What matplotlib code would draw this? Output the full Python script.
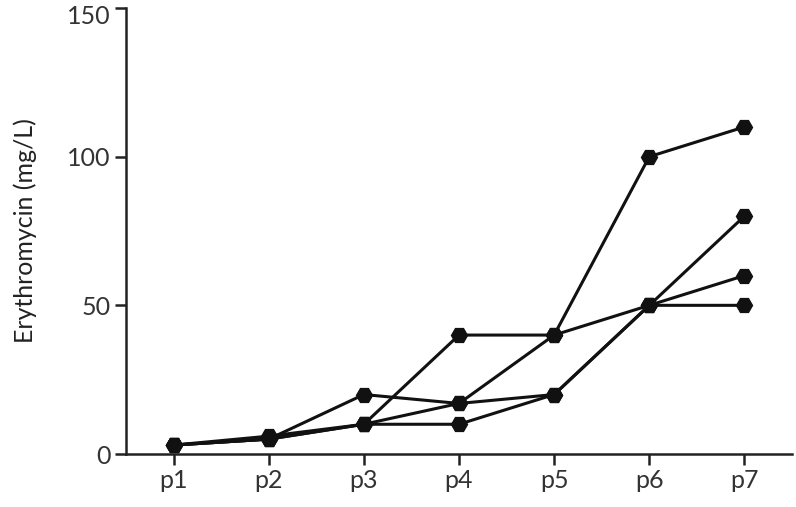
import matplotlib
matplotlib.use("Agg")
import matplotlib.pyplot as plt
import matplotlib.transforms as mtransforms

# Dados
categories = ["p1", "p2", "p3", "p4", "p5", "p6", "p7"]
series_a = [3, 5, 10, 40, 40, 100, 110]
series_b = [3, 5, 20, 17, 40, 50, 80]
series_c = [3, 5, 10, 17, 20, 50, 60]
series_d = [3, 6, 10, 10, 20, 50, 50]

plt.rcParams["font.family"] = ["Lato", "DejaVu Sans"]

fig = plt.figure(figsize=(7.96, 5.07), dpi=100)
ax = fig.add_axes([126 / 796, 1 - 454 / 507, 666 / 796, 446 / 507])

x = list(range(len(categories)))
for ys in (series_a, series_b, series_c, series_d):
    ax.plot(x, ys, color="#111111", linewidth=2.2, marker="H",
            markersize=11.5, markerfacecolor="#111111",
            markeredgecolor="#111111", clip_on=False, zorder=3)

ax.set_xlim(-0.5, 6.5)
ax.set_ylim(0, 150)
ax.set_xticks(x)
ax.set_xticklabels(categories)
ax.set_yticks([0, 50, 100, 150])
ax.set_ylabel("Erythromycin (mg/L)", fontsize=18, color="#222222", labelpad=22)

for side in ("top", "right"):
    ax.spines[side].set_visible(False)
for side in ("left", "bottom"):
    ax.spines[side].set_linewidth(1.8)
    ax.spines[side].set_color("#222222")

ax.tick_params(axis="both", direction="out", length=8, width=1.8,
               color="#222222", labelsize=18, labelcolor="#333333", pad=3)

# o rótulo "150" fica um pouco abaixo do tick, como na figura original
top_label = ax.get_yticklabels()[-1]
top_label.set_transform(top_label.get_transform() +
                        mtransforms.ScaledTranslation(0, -5 / 72, fig.dpi_scale_trans))

fig.savefig("out.png", dpi=100)
plt.close()
